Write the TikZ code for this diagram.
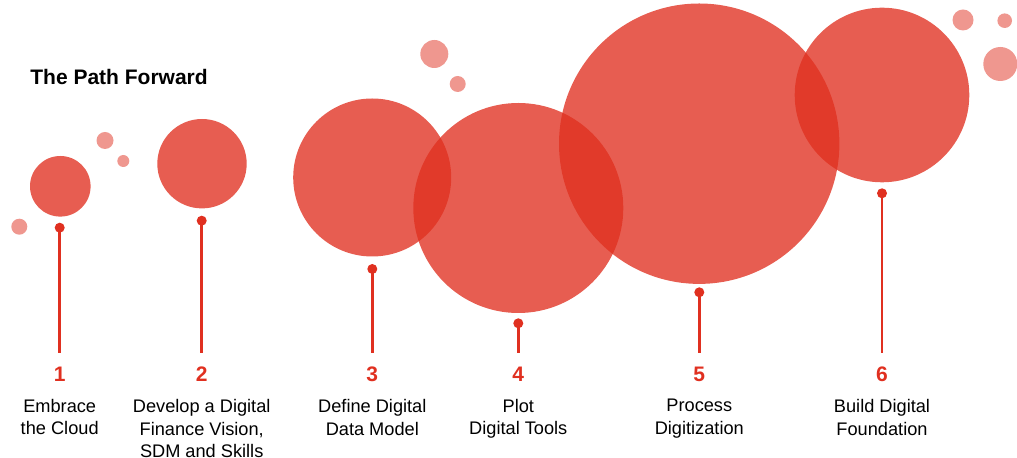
\documentclass[tikz,border=0pt]{standalone}
\usepackage{fontspec}
\setmainfont{Liberation Sans}
\usepackage{xcolor}
\usepackage{tikz}
\usetikzlibrary{positioning}

\definecolor{pathred}{RGB}{224,48,32}

\begin{document}
\begin{tikzpicture}[
    x=0.5pt, y=-0.5pt,
    bubble/.style={circle, fill=pathred, fill opacity=0.78, inner sep=0pt},
    speck/.style={circle, fill=pathred, fill opacity=0.5, inner sep=0pt},
    pin/.style={circle, fill=pathred, inner sep=0pt, minimum size=5pt},
    stem/.style={draw=pathred, line width=1.4pt},
    num/.style={text=pathred, inner sep=0pt, font=\fontsize{10.5}{12}\selectfont\bfseries},
    desc/.style={align=center, inner sep=0pt, font=\fontsize{9.1}{11.25}\selectfont},
    title/.style={inner sep=0pt, font=\fontsize{10.5}{12}\selectfont\bfseries}
]
    \useasboundingbox (0,0) rectangle (1017,458);

    \node[title, anchor=base west] (title) at (30,85) {The Path Forward};

    % small bubbles
    \node[speck, minimum size=8.5pt] (s1) at (105,140.5) {};
    \node[speck, minimum size=6pt] (s2) at (123.3,161) {};
    \node[speck, minimum size=8pt] (s3) at (19.3,226.7) {};
    \node[speck, minimum size=14pt] (s4) at (434.3,54) {};
    \node[speck, minimum size=8pt] (s5) at (457.7,84) {};
    \node[speck, minimum size=10.5pt] (s6) at (963,20) {};
    \node[speck, minimum size=7.3pt] (s7) at (1004.7,20.7) {};
    \node[speck, minimum size=17pt] (s8) at (1000.3,64) {};

    % big bubbles
    \node[bubble, minimum size=30.3pt] (b1) at (60.3,186.3) {};
    \node[bubble, minimum size=44.7pt] (b2) at (202,163.7) {};
    \node[bubble, minimum size=79pt] (b3) at (372.2,177.5) {};
    \node[bubble, minimum size=105pt] (b4) at (518.3,208) {};
    \node[bubble, minimum size=140.2pt] (b5) at (699.2,143.7) {};
    \node[bubble, minimum size=87.3pt] (b6) at (882,95) {};

    % pins and stems
    \node[pin] (p1) at (59.7,227.7) {};
    \node[pin] (p2) at (201.7,220.7) {};
    \node[pin] (p3) at (372.3,269) {};
    \node[pin] (p4) at (518.3,323.3) {};
    \node[pin] (p5) at (699.3,292.3) {};
    \node[pin] (p6) at (882,193.3) {};

    \coordinate (e1) at (59.7,353.3);
    \coordinate (e2) at (201.7,353.3);
    \coordinate (e3) at (372.3,353.3);
    \coordinate (e4) at (518.3,353.3);
    \coordinate (e5) at (699.3,353.3);
    \coordinate (e6) at (882,353.3);

    \draw[stem] (p1.center) -- (e1);
    \draw[stem] (p2.center) -- (e2);
    \draw[stem] (p3.center) -- (e3);
    \draw[stem] (p4.center) -- (e4);
    \draw[stem] (p5.center) -- (e5);
    \draw[stem] (p6.center) -- (e6);

    % numbers and captions
    \node[num] (n1) at (59.7,374.2) {1};
    \node[num] (n2) at (201.7,374.2) {2};
    \node[num] (n3) at (372.3,374.2) {3};
    \node[num] (n4) at (518.3,374.2) {4};
    \node[num] (n5) at (699.3,374.2) {5};
    \node[num] (n6) at (882,374.2) {6};

    \node[desc, below=8.5pt of n1] (t1) {Embrace\\the Cloud};
    \node[desc, below=8.5pt of n2] (t2) {Develop a Digital\\Finance Vision,\\SDM and Skills};
    \node[desc, below=8.5pt of n3] (t3) {Define Digital\\Data Model};
    \node[desc, below=8.5pt of n4] (t4) {Plot\\Digital Tools};
    \node[desc, below=8.5pt of n5] (t5) {Process\\Digitization};
    \node[desc, below=8.5pt of n6] (t6) {Build Digital\\Foundation};
\end{tikzpicture}
\end{document}
